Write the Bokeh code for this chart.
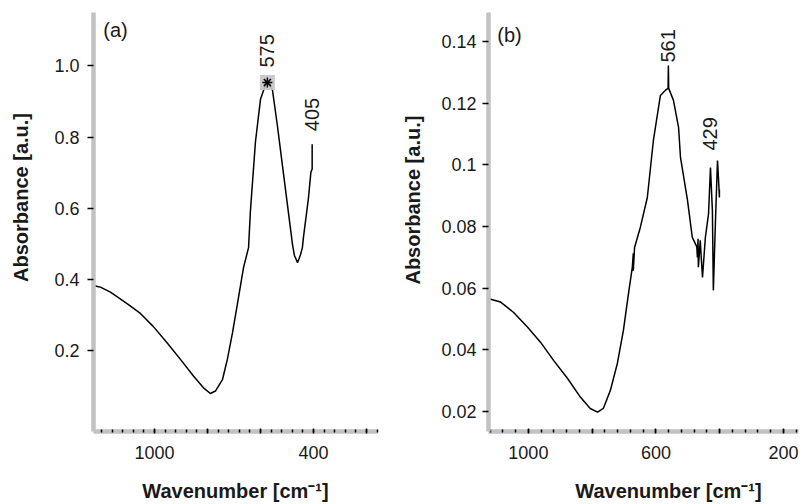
import math
from bokeh.plotting import figure
from bokeh.layouts import row, column
from bokeh.models import Range1d, FixedTicker, Label
from bokeh.core.properties import value
from bokeh.embed import file_html
from bokeh.resources import INLINE

FONT = "Liberation Sans"

# ---------------- data ----------------
# panel (a)
a_wn = [1230, 1215, 1204, 1166, 1102, 1053, 1004, 951, 902, 853, 815, 789, 770,
        743, 725, 706, 687, 664, 645, 638, 619, 600, 581, 574, 570, 555, 536,
        517, 498, 479, 472, 460, 449, 442, 438, 419, 410, 405, 405]
a_abs = [0.383, 0.380, 0.378, 0.364, 0.331, 0.304, 0.267, 0.220, 0.175, 0.128,
         0.095, 0.079, 0.086, 0.119, 0.175, 0.248, 0.331, 0.433, 0.489, 0.592,
         0.786, 0.906, 0.947, 0.953, 0.950, 0.933, 0.831, 0.719, 0.608, 0.497,
         0.467, 0.447, 0.469, 0.489, 0.517, 0.628, 0.700, 0.710, 0.780]
a_marker_wn = [574]
a_marker_abs = [0.953]
a_peaks = ["575", "405"]
a_peak_wn = [575, 405]
a_peak_abs = [0.953, 0.780]

# panel (b)
b_wn = [1124, 1087, 1047, 1003, 962, 921, 877, 837, 806, 783, 765, 743, 721,
        702, 686, 674, 671, 671, 667, 649, 627, 608, 586, 570, 562, 561, 560,
        545, 529, 523, 501, 486, 472, 470, 468, 467, 461, 458, 454, 445, 435,
        429, 423, 420, 413, 407, 404, 401, 401]
b_abs = [0.0566, 0.0555, 0.0522, 0.0474, 0.0425, 0.0366, 0.0307, 0.0247,
         0.0210, 0.0198, 0.0210, 0.0268, 0.0356, 0.0463, 0.0583, 0.0668,
         0.0713, 0.0657, 0.0732, 0.0797, 0.0894, 0.1079, 0.1225, 0.1242,
         0.1248, 0.1322, 0.1248, 0.1209, 0.1121, 0.1024, 0.0885, 0.0765,
         0.0735, 0.0700, 0.0760, 0.0668, 0.0755, 0.0700, 0.0635, 0.0765,
         0.0842, 0.0991, 0.0852, 0.0593, 0.0829, 0.1014, 0.0958, 0.0894,
         0.0920]
b_peaks = ["561", "429"]
b_peak_wn = [561, 429]
b_peak_abs = [0.1322, 0.1014]

# ticks
a_xticks = [1000, 800, 600, 400, 200]
a_xlabels = {1000: "1000", 800: "", 600: "", 400: "400", 200: ""}
a_xminor = list(range(160, 1241, 40))
a_yticks = [0.2, 0.4, 0.6, 0.8, 1.0]
a_ylabels = {0.2: "0.2", 0.4: "0.4", 0.6: "0.6", 0.8: "0.8", 1.0: "1.0"}

b_xticks = [1000, 800, 600, 400, 200]
b_xlabels = {1000: "1000", 800: "", 600: "600", 400: "", 200: "200"}
b_xminor = list(range(160, 1241, 40))
b_yticks = [0.02, 0.04, 0.06, 0.08, 0.1, 0.12, 0.14]
b_ylabels = {0.02: "0.02", 0.04: "0.04", 0.06: "0.06", 0.08: "0.08",
             0.1: "0.1", 0.12: "0.12", 0.14: "0.14"}

X_TITLE = "Wavenumber [cm\u207b\u00b9]"
Y_TITLE = "Absorbance [a.u.]"

AXIS_GREY = "#c2c2c2"
TXT = "#1a1a1a"
ROW_H = 478
TITLE_H = 26


def make_panel(width, height, borders, xr, yr, xt, xl, xm, yt, yl,
               x_standoff, y_standoff):
    p = figure(width=width, height=height, output_backend="svg",
               toolbar_location=None, x_range=Range1d(*xr), y_range=Range1d(*yr),
               min_border_left=borders[0], min_border_right=borders[1],
               min_border_top=borders[2], min_border_bottom=borders[3])
    p.outline_line_color = None
    p.grid.visible = False
    p.background_fill_color = "white"
    p.border_fill_color = "white"

    p.xaxis.ticker = FixedTicker(ticks=xt, minor_ticks=xm)
    p.xaxis.major_label_overrides = xl
    p.yaxis.ticker = FixedTicker(ticks=yt, minor_ticks=[])
    p.yaxis.major_label_overrides = yl

    for ax in (p.xaxis[0], p.yaxis[0]):
        ax.axis_line_color = AXIS_GREY
        ax.axis_line_width = 4.5
        ax.major_tick_line_color = "black"
        ax.minor_tick_line_color = "black"
        ax.major_tick_line_width = 1.5
        ax.minor_tick_line_width = 1.5
        ax.major_label_text_font = FONT
        ax.major_label_text_font_size = "18px"
        ax.major_label_text_color = TXT

    p.xaxis.major_tick_in = 3
    p.xaxis.major_tick_out = 2
    p.xaxis.minor_tick_in = 2
    p.xaxis.minor_tick_out = 1
    p.xaxis.major_label_standoff = x_standoff

    p.yaxis.major_tick_in = 0
    p.yaxis.major_tick_out = 6
    p.yaxis.minor_tick_in = 0
    p.yaxis.minor_tick_out = 0
    p.yaxis.major_label_standoff = y_standoff
    return p


def blank(width, height):
    f = figure(width=width, height=height, output_backend="svg",
               toolbar_location=None, x_range=Range1d(0, width),
               y_range=Range1d(0, height), x_axis_type=None, y_axis_type=None,
               min_border=0)
    f.min_border_left = f.min_border_right = 0
    f.min_border_top = f.min_border_bottom = 0
    f.outline_line_color = None
    f.grid.visible = False
    f.background_fill_color = "white"
    f.border_fill_color = "white"
    return f


def title_text(f, x, y, text, angle=0.0, baseline="middle"):
    f.text(x=[x], y=[y], text=[text], angle=angle,
           text_font=value(FONT), text_font_size="20px",
           text_font_style="bold", text_color=TXT,
           text_align="center", text_baseline=baseline)


def panel_tag(p, x, y, text):
    p.add_layout(Label(x=x, y=y, x_units="screen", y_units="screen",
                       text=text, text_font=FONT, text_font_size="20px",
                       text_color=TXT, text_align="center",
                       text_baseline="middle"))


def peak_labels(p, names, xs, ys, offsets):
    for name, x, y, off in zip(names, xs, ys, offsets):
        p.add_layout(Label(x=x, y=y, y_offset=off, text=name,
                           angle=math.pi / 2, text_font=FONT,
                           text_font_size="20px", text_color=TXT,
                           text_align="left", text_baseline="middle"))


# ---------------- panel (a) ----------------
ya = blank(40, ROW_H)
title_text(ya, 20, ROW_H - 211, Y_TITLE, angle=math.pi / 2)

pa = make_panel(360, ROW_H, (53, 23, 12, ROW_H - 436), (1230, 158.5),
                (-0.0278, 1.15),
                a_xticks, a_xlabels, a_xminor, a_yticks, a_ylabels, 12, 8)
pa.line(a_wn, a_abs, line_color="black", line_width=1.5)
pa.scatter(a_marker_wn, a_marker_abs, marker="square", size=15,
           fill_color="#c4c4c4", line_color=None, alpha=0.9)
pa.scatter(a_marker_wn, a_marker_abs, marker="asterisk", size=10,
           line_color="black", line_width=1.5)
peak_labels(pa, a_peaks, a_peak_wn, a_peak_abs, [15, 13])
panel_tag(pa, 22, 402, "(a)")

# ---------------- panel (b) ----------------
yb = blank(36, ROW_H)
title_text(yb, 12, ROW_H - 214, Y_TITLE, angle=math.pi / 2)

pb = make_panel(374, ROW_H, (52, 12, 12, ROW_H - 431), (1125, 153),
                (0.01353, 0.1494),
                b_xticks, b_xlabels, b_xminor, b_yticks, b_ylabels, 12, 6)
pb.line(b_wn, b_abs, line_color="black", line_width=1.5)
peak_labels(pb, b_peaks, b_peak_wn, b_peak_abs, [3, 10])
panel_tag(pb, 21, 397, "(b)")

# ---------------- x titles ----------------
xt = blank(810, TITLE_H)
title_text(xt, 235, 14, X_TITLE)
title_text(xt, 668, 14, X_TITLE)

layout = column(row(ya, pa, yb, pb, spacing=0), xt, spacing=0)
open("out.html", "w").write(file_html(layout, INLINE))
